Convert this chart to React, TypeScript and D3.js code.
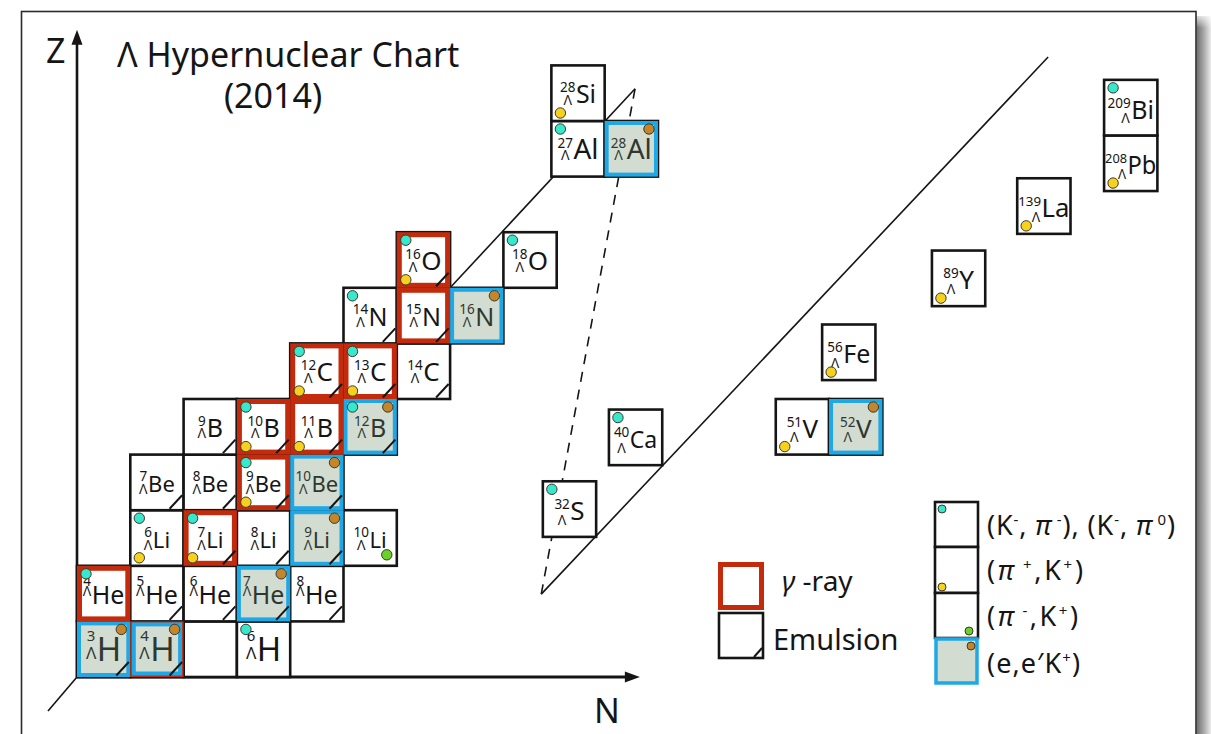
import React from "react";
import * as d3 from "d3";

// ---- Λ hypernuclei shown on the chart ("A" + element symbol) ----
const lightHypernuclei = [
  "3H", "4H", "6H",
  "4He", "5He", "6He", "7He", "8He",
  "6Li", "7Li", "8Li", "9Li", "10Li",
  "7Be", "8Be", "9Be", "10Be",
  "9B", "10B", "11B", "12B",
  "12C", "13C", "14C",
  "14N", "15N", "16N",
  "16O", "18O",
];
const mediumHypernuclei = ["27Al", "28Al", "28Si"];
const heavyHypernuclei = ["32S", "40Ca", "51V", "52V", "56Fe", "89Y", "139La", "208Pb", "209Bi"];
// slots of the grid drawn as empty boxes
const emptySlots = ["5H"];

const elementZ: Record<string, number> = {
  H: 1, He: 2, Li: 3, Be: 4, B: 5, C: 6, N: 7, O: 8, Al: 13, Si: 14,
  S: 16, Ca: 20, V: 23, Fe: 26, Y: 39, La: 57, Pb: 82, Bi: 83,
};

// ---- production / spectroscopy methods ----
const kMinusPiMinus = ["4He", "6Li", "7Li", "9Be", "10B", "12B", "12C", "13C", "14N", "16O", "18O", "6H", "27Al", "32S", "40Ca", "209Bi"];
const piPlusKPlus = ["6Li", "7Li", "9Be", "10B", "11B", "12C", "13C", "16O", "28Si", "51V", "56Fe", "89Y", "139La", "208Pb"];
const piMinusKPlus = ["10Li"];
const electroProduction = ["3H", "4H", "7He", "9Li", "10Be", "12B", "16N", "28Al", "52V"];
const gammaRay = ["4H", "4He", "7Li", "9Be", "10B", "11B", "12C", "13C", "15N", "16O"];
const emulsion = [
  "3H", "4H", "5He", "6He", "7He", "8He", "7Li", "8Li", "9Li",
  "7Be", "8Be", "9Be", "10Be", "9B", "10B", "11B", "12B",
  "12C", "13C", "14C", "14N", "15N", "16O",
];

// Schematic (broken-axis) placement for nuclei beyond oxygen, in grid units [column, row]
const chartSlots: Record<string, [number, number]> = {
  "27Al": [9.9, 10], "28Al": [10.9, 10], "28Si": [9.9, 11],
  "32S": [9.74, 3.52], "40Ca": [10.98, 4.81], "51V": [14.11, 5.0], "52V": [15.11, 5.0],
  "56Fe": [14.98, 6.34], "89Y": [17.04, 7.67], "139La": [18.64, 8.97],
  "208Pb": [20.27, 9.74], "209Bi": [20.27, 10.74],
};

// Guide lines of the schematic, in grid units
const upperGuide: [number, number][] = [[8, 7], [11.47, 10.58]];
const lowerGuide: [number, number][] = [[9.71, 1.49], [19.22, 11.15]];
const dashedGuide: [number, number][] = [[9.71, 1.49], [11.47, 10.58]];

const symbolSize: Record<string, number> = {
  H: 33, He: 25, Li: 22, Be: 22, B: 25, C: 26, N: 25, O: 26, Al: 28, Si: 25,
  S: 26, Ca: 23, V: 26, Fe: 25, Y: 26, La: 26, Pb: 25, Bi: 25,
};

const W = 1211;
const H = 734;
const CELL_W = 53.3;
const CELL_H = 55.6;
const FONT = '"Noto Sans", "Open Sans", sans-serif';

const COL = {
  ink: "#151515",
  gamma: "#c42b0d",
  blue: "#1ea9e6",
  eeFill: "#d3dcd0",
  cyan: "#38e8cc",
  yellow: "#f6d21e",
  brown: "#c4862c",
  green: "#6ad02a",
};

const x = d3.scaleLinear().domain([1, 21]).range([77, 77 + 20 * CELL_W]);
const y = d3.scaleLinear().domain([0, 11]).range([677, 677 - 11 * CELL_H]);

const ctx = typeof document !== "undefined" ? document.createElement("canvas").getContext("2d") : null;
function measure(t: string, size: number) {
  if (!ctx) return t.length * size * 0.58;
  ctx.font = `${size}px ${FONT}`;
  return ctx.measureText(t).width;
}

type Cell = { id: string; A: number; sym: string; Z: number; N: number; col: number; row: number };

function parse(id: string): Cell {
  const m = id.match(/^(\d+)([A-Z][a-z]?)$/)!;
  const A = +m[1];
  const sym = m[2];
  const Z = elementZ[sym];
  const N = A - Z - 1;
  const slot = chartSlots[id];
  return { id, A, sym, Z, N, col: slot ? slot[0] : N, row: slot ? slot[1] : Z };
}

const cells = [...lightHypernuclei, ...mediumHypernuclei, ...heavyHypernuclei].map(parse);
const blanks = emptySlots.map(parse);

function box(c: Cell) {
  const x0 = x(c.col);
  const x1 = x(c.col + 1);
  const y0 = y(c.row);
  const y1 = y(c.row - 1);
  return { x0, x1, y0, y1, w: x1 - x0, h: y1 - y0 };
}

const pt = (p: [number, number]) => [x(p[0]), y(p[1])] as [number, number];

// mass number over Λ, followed by the element symbol
function CellLabel({ c }: { c: Cell }) {
  const { x0, y0, w, h } = box(c);
  const kind = c.sym === "H" ? "H" : c.sym === "He" ? "He" : c.Z > 14 ? "heavy" : "std";
  const supSize = kind === "H" ? 15 : 13.5;
  const lamSize = kind === "H" ? 17 : 14;
  const symSize = symbolSize[c.sym];
  const supY = { H: 0.36, He: 0.37, std: 0.48, heavy: 0.5 }[kind];
  const lamY = { H: 0.67, He: 0.55, std: 0.71, heavy: 0.78 }[kind];
  const symY = { H: 0.71, He: 0.68, std: 0.68, heavy: 0.7 }[kind];
  const a = String(c.A);
  const supW = measure(a, supSize);
  const lamW = measure("Λ", lamSize);
  const colW = Math.max(supW, lamW);
  const symW = measure(c.sym, symSize);
  const gap = 0.5;
  const total = colW + gap + symW;
  const k = Math.min(1, (w - 2) / total);
  const left = x0 + w / 2 - (total * k) / 2;
  const lamX = a.length >= 3 ? colW - lamW / 2 - 1 : colW / 2;
  const fill = electroProduction.includes(c.id) ? "#2e3830" : COL.ink;
  return (
    <text transform={`translate(${left},0) scale(${k},1)`} fill={fill} fontFamily={FONT}>
      <tspan x={colW / 2} y={y0 + supY * h} fontSize={supSize} textAnchor="middle">{a}</tspan>
      <tspan x={lamX} y={y0 + lamY * h} fontSize={lamSize} textAnchor="middle">Λ</tspan>
      <tspan x={colW + gap} y={y0 + symY * h} fontSize={symSize}>{c.sym}</tspan>
    </text>
  );
}

function Dot({ cx, cy, color, r = 5.2 }: { cx: number; cy: number; color: string; r?: number }) {
  return <circle cx={cx} cy={cy} r={r} fill={color} stroke="#3a3a2a" strokeWidth={1} />;
}

export default function App() {
  const [ux0, uy0] = pt(upperGuide[0]);
  const [ux1, uy1] = pt(upperGuide[1]);
  const [lx0, ly0] = pt(lowerGuide[0]);
  const [lx1, ly1] = pt(lowerGuide[1]);
  const [dx0, dy0] = pt(dashedGuide[0]);
  const [dx1, dy1] = pt(dashedGuide[1]);
  const ox = x(1);
  const oy = y(0);
  const zTip = y(11.64);
  const nTip = x(11.56);

  return (
    <svg width={W} height={H} style={{ position: "absolute", left: 0, top: 0, background: "#fff" }} fontFamily={FONT}>
      <defs>
        <linearGradient id="shadowX" x1="0" x2="1" y1="0" y2="0">
          <stop offset="0" stopColor="#6e6e6e" />
          <stop offset="0.5" stopColor="#a8a8a8" />
          <stop offset="1" stopColor="#ececec" />
        </linearGradient>
        <linearGradient id="shadowTop" x1="0" x2="0" y1="0" y2="1">
          <stop offset="0" stopColor="#fff" stopOpacity={1} />
          <stop offset="1" stopColor="#fff" stopOpacity={0} />
        </linearGradient>
      </defs>
      <rect width={W} height={H} fill="#fff" />

      {/* page frame with drop shadow on the right */}
      <rect x={1196.5} y={16} width={W - 1196.5} height={H} fill="url(#shadowX)" />
      <rect x={1196.5} y={12} width={W - 1196.5} height={16} fill="url(#shadowTop)" />
      <rect x={21.5} y={11.5} width={1174.5} height={H + 40} fill="#fff" stroke="#2a2a2a" strokeWidth={1.6} />

      {/* title */}
      <text x={117} y={67} fontSize={34} fill={COL.ink}>Λ Hypernuclear Chart</text>
      <text x={273} y={108} fontSize={34} fill={COL.ink} textAnchor="middle">(2014)</text>

      {/* guide lines of the schematic */}
      <line x1={ux0} y1={uy0} x2={ux1} y2={uy1} stroke={COL.ink} strokeWidth={1.6} />
      <line x1={lx0} y1={ly0} x2={lx1} y2={ly1} stroke={COL.ink} strokeWidth={1.6} />
      <line x1={dx0} y1={dy0} x2={dx1} y2={dy1} stroke={COL.ink} strokeWidth={1.6} strokeDasharray="10 8" />

      {/* axes */}
      <line x1={ox} y1={oy} x2={ox} y2={zTip + 10} stroke={COL.ink} strokeWidth={2.6} />
      <path d={`M${ox},${zTip} L${ox - 5.5},${zTip + 15} L${ox + 5.5},${zTip + 15} Z`} fill={COL.ink} />
      <line x1={ox} y1={oy} x2={nTip - 10} y2={oy} stroke={COL.ink} strokeWidth={3} />
      <path d={`M${nTip},${oy} L${nTip - 15},${oy - 5.5} L${nTip - 15},${oy + 5.5} Z`} fill={COL.ink} />
      <line x1={ox} y1={oy} x2={x(0.456)} y2={y(-0.61)} stroke={COL.ink} strokeWidth={1.6} />
      <text x={46} y={63} fontSize={34} fill={COL.ink}>Z</text>
      <text x={607} y={723} fontSize={34} fill={COL.ink} textAnchor="middle">N</text>

      {/* cell outlines */}
      {[...blanks, ...cells].map((c) => {
        const b = box(c);
        return (
          <rect key={"o" + c.id} x={b.x0} y={b.y0} width={b.w} height={b.h} fill="#fff" stroke={COL.ink} strokeWidth={2.6} />
        );
      })}

      {/* γ-ray and (e,e'K+) markings */}
      {cells.map((c) => {
        const b = box(c);
        const g = gammaRay.includes(c.id);
        const e = electroProduction.includes(c.id);
        return (
          <g key={"m" + c.id}>
            {g && (
              <rect x={b.x0 + 2.5} y={b.y0 + 2.5} width={b.w - 5} height={b.h - 5} fill="#fff" stroke={COL.gamma} strokeWidth={5} />
            )}
            {e && (
              <rect
                x={b.x0 + (g ? 3.5 : 2)}
                y={b.y0 + (g ? 3 : 2)}
                width={b.w - (g ? 7 : 4)}
                height={b.h - (g ? 6.5 : 4)}
                fill={COL.eeFill}
                stroke={COL.blue}
                strokeWidth={4}
              />
            )}
          </g>
        );
      })}

      {/* emulsion corner marks */}
      {cells
        .filter((c) => emulsion.includes(c.id))
        .map((c) => {
          const b = box(c);
          return (
            <line key={"e" + c.id} x1={b.x1 - 14} y1={b.y1 - 1.5} x2={b.x1 - 1.5} y2={b.y1 - 15} stroke={COL.ink} strokeWidth={2} />
          );
        })}

      {/* labels */}
      {cells.map((c) => (
        <CellLabel key={"l" + c.id} c={c} />
      ))}

      {/* reaction dots */}
      {cells.map((c) => {
        const b = box(c);
        return (
          <g key={"d" + c.id}>
            {kMinusPiMinus.includes(c.id) && <Dot cx={b.x0 + 9} cy={b.y0 + 8} color={COL.cyan} />}
            {piPlusKPlus.includes(c.id) && <Dot cx={b.x0 + 9} cy={b.y1 - 8} color={COL.yellow} />}
            {piMinusKPlus.includes(c.id) && <Dot cx={b.x1 - 10} cy={b.y1 - 11} color={COL.green} />}
            {electroProduction.includes(c.id) && <Dot cx={b.x1 - 9} cy={b.y0 + 8} color={COL.brown} />}
          </g>
        );
      })}

      {/* legend: measurement type */}
      <rect x={720.5} y={564.5} width={41} height={43} fill="#fff" stroke={COL.gamma} strokeWidth={5} />
      <text x={782} y={591} fontSize={28} fill={COL.ink}>
        <tspan fontStyle="italic">γ</tspan> -ray
      </text>
      <rect x={719} y={613} width={44} height={45} fill="#fff" stroke={COL.ink} strokeWidth={2.6} />
      <line x1={754} y1={657} x2={762} y2={648} stroke={COL.ink} strokeWidth={2} />
      <text x={773} y={650} fontSize={29} fill={COL.ink}>Emulsion</text>

      {/* legend: reactions */}
      <rect x={935} y={502} width={43} height={45} fill="#fff" stroke={COL.ink} strokeWidth={2.6} />
      <rect x={935} y={547} width={43} height={46} fill="#fff" stroke={COL.ink} strokeWidth={2.6} />
      <rect x={935} y={593} width={43} height={45} fill="#fff" stroke={COL.ink} strokeWidth={2.6} />
      <rect x={936} y={639} width={41} height={44} fill={COL.eeFill} stroke={COL.blue} strokeWidth={3.5} />
      <Dot cx={942} cy={509} r={4} color={COL.cyan} />
      <Dot cx={942} cy={587} r={4} color={COL.yellow} />
      <Dot cx={969} cy={631} r={4} color={COL.green} />
      <Dot cx={971} cy={646} r={4} color={COL.brown} />

      <g fontSize={27} fill={COL.ink}>
        <text x={987} y={535} textLength={188} lengthAdjust="spacing">
          (K<tspan dy={-10} fontSize={15}>-</tspan>
          <tspan dy={10}>, </tspan>
          <tspan fontStyle="italic">π</tspan>
          <tspan dy={-10} fontSize={15}> -</tspan>
          <tspan dy={10}>), (K</tspan>
          <tspan dy={-10} fontSize={15}>-</tspan>
          <tspan dy={10}>, </tspan>
          <tspan fontStyle="italic">π</tspan>
          <tspan dy={-10} fontSize={15}> 0</tspan>
          <tspan dy={10}>)</tspan>
        </text>
        <text x={987} y={580} textLength={96} lengthAdjust="spacing">
          (<tspan fontStyle="italic">π</tspan>
          <tspan dy={-10} fontSize={15}> +</tspan>
          <tspan dy={10}>,K</tspan>
          <tspan dy={-10} fontSize={15}>+</tspan>
          <tspan dy={10}>)</tspan>
        </text>
        <text x={987} y={626} textLength={91} lengthAdjust="spacing">
          (<tspan fontStyle="italic">π</tspan>
          <tspan dy={-10} fontSize={15}> -</tspan>
          <tspan dy={10}>,K</tspan>
          <tspan dy={-10} fontSize={15}>+</tspan>
          <tspan dy={10}>)</tspan>
        </text>
        <text x={987} y={673} textLength={93} lengthAdjust="spacing">
          (e,e′K<tspan dy={-10} fontSize={15}>+</tspan>
          <tspan dy={10}>)</tspan>
        </text>
      </g>
    </svg>
  );
}
